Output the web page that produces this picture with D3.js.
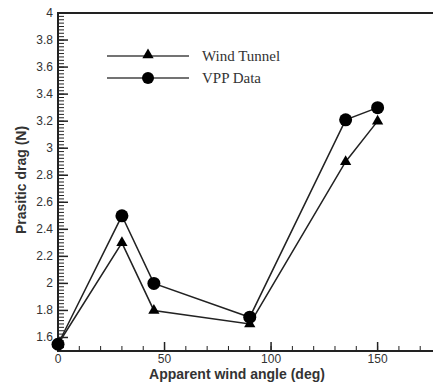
<!DOCTYPE html>
<html>
<head>
<meta charset="utf-8">
<script src="https://cdn.jsdelivr.net/npm/d3@7"></script>
<style>
  body { margin: 0; background: #fff; }
  svg { display: block; }
</style>
</head>
<body>
<div id="app"></div>
<script>
  'use strict'
  const angles = [0, 30, 45, 90, 135, 150]
  const windTunnel = [1.55, 2.3, 1.8, 1.7, 2.9, 3.2]
  const vppData = [1.55, 2.5, 2.0, 1.75, 3.21, 3.3]
  const xTicks = [0, 50, 100, 150]
  const yTicks = [1.6, 1.8, 2, 2.2, 2.4, 2.6, 2.8, 3, 3.2, 3.4, 3.6, 3.8, 4]
  const seriesNames = ['Wind Tunnel', 'VPP Data']

  const w = 433, h = 383
  const svg = d3.select('#app').append('svg')
    .attr('width', w).attr('height', h)

  const x = d3.scaleLinear().domain([0, 176]).range([58, 433])
  const y = d3.scaleLinear().domain([1.5, 4]).range([351, 13])

  const axisCol = '#222'
  const labelCol = '#333'

  // frame: left, top, bottom
  svg.append('path')
    .attr('d', `M${x.range()[1]},${y(4)}H${x(0)}V${y(1.5)}H${x.range()[1]}`)
    .attr('fill', 'none').attr('stroke', axisCol).attr('stroke-width', 2)

  // y minor ticks
  const yMinor = d3.range(1.5, 4.0001, 0.025)
  svg.append('g').selectAll('line').data(yMinor).enter().append('line')
    .attr('x1', x(0)).attr('x2', x(0) + 6)
    .attr('y1', d => y(d)).attr('y2', d => y(d))
    .attr('stroke', axisCol).attr('stroke-width', 1)
  svg.append('g').selectAll('line').data(yTicks).enter().append('line')
    .attr('x1', x(0)).attr('x2', x(0) + 10)
    .attr('y1', d => y(d)).attr('y2', d => y(d))
    .attr('stroke', axisCol).attr('stroke-width', 1.5)
  svg.append('g').selectAll('text').data(yTicks).enter().append('text')
    .attr('x', x(0) - 5).attr('y', d => y(d) + 4)
    .attr('text-anchor', 'end')
    .attr('font-family', 'Liberation Sans, Arial, sans-serif')
    .attr('font-size', 12).attr('fill', labelCol)
    .text(d => d)

  // x ticks
  const xMinor = d3.range(0, 171, 10)
  svg.append('g').selectAll('line').data(xMinor).enter().append('line')
    .attr('x1', d => x(d)).attr('x2', d => x(d))
    .attr('y1', y(1.5)).attr('y2', y(1.5) - 5)
    .attr('stroke', axisCol).attr('stroke-width', 1)
  svg.append('g').selectAll('line').data(xTicks).enter().append('line')
    .attr('x1', d => x(d)).attr('x2', d => x(d))
    .attr('y1', y(1.5)).attr('y2', y(1.5) - 9)
    .attr('stroke', axisCol).attr('stroke-width', 1.5)
  svg.append('g').selectAll('text').data(xTicks).enter().append('text')
    .attr('x', d => x(d)).attr('y', y(1.5) + 12)
    .attr('text-anchor', 'middle')
    .attr('font-family', 'Liberation Sans, Arial, sans-serif')
    .attr('font-size', 12).attr('fill', labelCol)
    .text(d => d)

  // axis titles
  svg.append('text')
    .attr('x', 237).attr('y', 379)
    .attr('text-anchor', 'middle')
    .attr('font-family', 'Liberation Sans, Arial, sans-serif')
    .attr('font-size', 14).attr('font-weight', 'bold').attr('fill', labelCol)
    .text('Apparent wind angle (deg)')
  svg.append('text')
    .attr('transform', 'translate(26,' + 180 + ') rotate(-90)')
    .attr('text-anchor', 'middle')
    .attr('font-family', 'Liberation Sans, Arial, sans-serif')
    .attr('font-size', 14).attr('font-weight', 'bold').attr('fill', labelCol)
    .text('Prasitic drag (N)')

  const line = d3.line().x(d => x(d[0])).y(d => y(d[1]))
  const wt = angles.map((a, i) => [a, windTunnel[i]])
  const vpp = angles.map((a, i) => [a, vppData[i]])

  svg.append('path').datum(wt).attr('d', line)
    .attr('fill', 'none').attr('stroke', '#222').attr('stroke-width', 1.5)
  svg.append('path').datum(vpp).attr('d', line)
    .attr('fill', 'none').attr('stroke', '#222').attr('stroke-width', 1.5)

  const tri = d3.symbol().type(d3.symbolTriangle).size(55)
  svg.append('g').selectAll('path').data(wt).enter().append('path')
    .attr('d', tri)
    .attr('transform', d => `translate(${x(d[0])},${y(d[1])})`)
    .attr('fill', '#000')
  svg.append('g').selectAll('circle').data(vpp).enter().append('circle')
    .attr('cx', d => x(d[0])).attr('cy', d => y(d[1])).attr('r', 6.5)
    .attr('fill', '#000')

  // legend
  const leg = svg.append('g')
  seriesNames.forEach(function (name, i) {
    const ly = 56 + i * 22
    leg.append('line').attr('x1', 107).attr('x2', 189)
      .attr('y1', ly).attr('y2', ly)
      .attr('stroke', '#444').attr('stroke-width', 1.5)
    if (i === 0) {
      leg.append('path').attr('d', tri)
        .attr('transform', `translate(148,${ly - 1})`).attr('fill', '#000')
    } else {
      leg.append('circle').attr('cx', 148).attr('cy', ly).attr('r', 6).attr('fill', '#000')
    }
    leg.append('text').attr('x', 202).attr('y', ly + 5)
      .attr('font-family', 'Liberation Serif, Times New Roman, serif')
      .attr('font-size', 15).attr('fill', '#333')
      .text(name)
  })
</script>
</body>
</html>
